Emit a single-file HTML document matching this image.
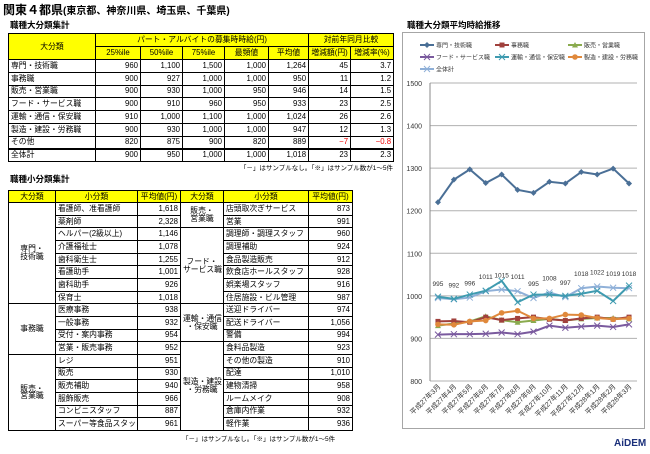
<!DOCTYPE html>
<html><head><meta charset="utf-8">
<style>
*{margin:0;padding:0;box-sizing:border-box}
body{width:650px;height:454px;background:#fff;font-family:"Liberation Sans","Noto Sans CJK JP",sans-serif;color:#000;position:relative;overflow:hidden}
.abs{position:absolute}
table{border-collapse:collapse;position:absolute;font-size:7.8px;table-layout:fixed}
td{border:1px solid #000;padding:0 2px;white-space:nowrap;overflow:hidden;line-height:1}
.h{background:#ffff00;text-align:center}
.n{text-align:right}
.c{text-align:center}
.red{color:#e00}
</style></head><body>
<div class="abs" style="left:3px;top:1px;font-size:12px;font-weight:bold">関東４都県<span style="font-size:10px">(東京都、神奈川県、埼玉県、千葉県)</span></div>
<div class="abs" style="left:10px;top:19px;font-size:8.5px;font-weight:bold">職種大分類集計</div>
<table style="left:8px;top:33px;width:385px">
<colgroup><col style="width:87px"><col style="width:45px"><col style="width:42px"><col style="width:42px"><col style="width:44px"><col style="width:40px"><col style="width:42px"><col style="width:43px"></colgroup>
<tr style="height:13px"><td class="h" rowspan="2">大分類</td><td class="h" colspan="5">パート・アルバイトの募集時時給(円)</td><td class="h" colspan="2">対前年同月比較</td></tr>
<tr style="height:13px"><td class="h">25%ile</td><td class="h">50%ile</td><td class="h">75%ile</td><td class="h">最頻値</td><td class="h">平均値</td><td class="h">増減額(円)</td><td class="h">増減率(%)</td></tr>
<tr style="height:12.75px"><td>専門・技術職</td><td class="n">960</td><td class="n">1,100</td><td class="n">1,500</td><td class="n">1,000</td><td class="n">1,264</td><td class="n">45</td><td class="n">3.7</td></tr>
<tr style="height:12.75px"><td>事務職</td><td class="n">900</td><td class="n">927</td><td class="n">1,000</td><td class="n">1,000</td><td class="n">950</td><td class="n">11</td><td class="n">1.2</td></tr>
<tr style="height:12.75px"><td>販売・営業職</td><td class="n">900</td><td class="n">930</td><td class="n">1,000</td><td class="n">950</td><td class="n">946</td><td class="n">14</td><td class="n">1.5</td></tr>
<tr style="height:12.75px"><td>フード・サービス職</td><td class="n">900</td><td class="n">910</td><td class="n">960</td><td class="n">950</td><td class="n">933</td><td class="n">23</td><td class="n">2.5</td></tr>
<tr style="height:12.75px"><td>運輸・通信・保安職</td><td class="n">910</td><td class="n">1,000</td><td class="n">1,100</td><td class="n">1,000</td><td class="n">1,024</td><td class="n">26</td><td class="n">2.6</td></tr>
<tr style="height:12.75px"><td>製造・建設・労務職</td><td class="n">900</td><td class="n">930</td><td class="n">1,000</td><td class="n">1,000</td><td class="n">947</td><td class="n">12</td><td class="n">1.3</td></tr>
<tr style="height:12.75px"><td>その他</td><td class="n">820</td><td class="n">875</td><td class="n">900</td><td class="n">820</td><td class="n">889</td><td class="n red">−7</td><td class="n red">−0.8</td></tr>
<tr style="height:12.75px;border-top:2px solid #000"><td>全体計</td><td class="n">900</td><td class="n">950</td><td class="n">1,000</td><td class="n">1,000</td><td class="n">1,018</td><td class="n">23</td><td class="n">2.3</td></tr>
</table>
<div class="abs" style="right:257px;top:162px;white-space:nowrap;font-size:6.5px">「－」はサンプルなし。「※」はサンプル数が1～5件</div>

<div class="abs" style="left:10px;top:173px;font-size:8.5px;font-weight:bold">職種小分類集計</div>
<table style="left:8px;top:190px;width:344px">
<colgroup><col style="width:47px"><col style="width:82px"><col style="width:43px"><col style="width:43px"><col style="width:85px"><col style="width:44px"></colgroup>
<tr style="height:12px"><td class="h">大分類</td><td class="h">小分類</td><td class="h">平均値(円)</td><td class="h">大分類</td><td class="h">小分類</td><td class="h">平均値(円)</td></tr>
<tr style="height:12.67px"><td class="c" rowspan="8" style="white-space:normal">専門・<br>技術職</td><td>看護師、准看護師</td><td class="n">1,618</td><td class="c" rowspan="2">販売・<br>営業職</td><td>店頭取次ぎサービス</td><td class="n">873</td></tr>
<tr style="height:12.67px"><td>薬剤師</td><td class="n">2,328</td><td>営業</td><td class="n">991</td></tr>
<tr style="height:12.67px"><td>ヘルパー(2級以上)</td><td class="n">1,146</td><td class="c" rowspan="6">フード・<br>サービス職</td><td>調理師・調理スタッフ</td><td class="n">960</td></tr>
<tr style="height:12.67px"><td>介護福祉士</td><td class="n">1,078</td><td>調理補助</td><td class="n">924</td></tr>
<tr style="height:12.67px"><td>歯科衛生士</td><td class="n">1,255</td><td>食品製造販売</td><td class="n">912</td></tr>
<tr style="height:12.67px"><td>看護助手</td><td class="n">1,001</td><td>飲食店ホールスタッフ</td><td class="n">928</td></tr>
<tr style="height:12.67px"><td>歯科助手</td><td class="n">926</td><td>娯楽場スタッフ</td><td class="n">916</td></tr>
<tr style="height:12.67px"><td>保育士</td><td class="n">1,018</td><td>住居施設・ビル管理</td><td class="n">987</td></tr>
<tr style="height:12.67px"><td class="c" rowspan="4">事務職</td><td>医療事務</td><td class="n">938</td><td class="c" rowspan="3">運輸・通信<br>・保安職</td><td>送迎ドライバー</td><td class="n">974</td></tr>
<tr style="height:12.67px"><td>一般事務</td><td class="n">932</td><td>配送ドライバー</td><td class="n">1,056</td></tr>
<tr style="height:12.67px"><td>受付・案内事務</td><td class="n">954</td><td>警備</td><td class="n">994</td></tr>
<tr style="height:12.67px"><td>営業・販売事務</td><td class="n">952</td><td class="c" rowspan="7">製造・建設<br>・労務職</td><td>食料品製造</td><td class="n">923</td></tr>
<tr style="height:12.67px"><td class="c" rowspan="6">販売・<br>営業職</td><td>レジ</td><td class="n">951</td><td>その他の製造</td><td class="n">910</td></tr>
<tr style="height:12.67px"><td>販売</td><td class="n">930</td><td>配達</td><td class="n">1,010</td></tr>
<tr style="height:12.67px"><td>販売補助</td><td class="n">940</td><td>建物清掃</td><td class="n">958</td></tr>
<tr style="height:12.67px"><td>服飾販売</td><td class="n">966</td><td>ルームメイク</td><td class="n">908</td></tr>
<tr style="height:12.67px"><td>コンビニスタッフ</td><td class="n">887</td><td>倉庫内作業</td><td class="n">932</td></tr>
<tr style="height:12.67px"><td>スーパー等食品スタッフ</td><td class="n">961</td><td>軽作業</td><td class="n">936</td></tr>
</table>
<div class="abs" style="left:182px;top:433px;white-space:nowrap;font-size:6.5px">「－」はサンプルなし。「※」はサンプル数が1～5件</div>

<div class="abs" style="left:407px;top:19px;font-size:8.5px;font-weight:bold">職種大分類平均時給推移</div>
<svg class="abs" id="chart" style="left:0;top:0" width="650" height="454"></svg>
<div class="abs" style="left:614px;top:438px;font-size:10px;font-weight:bold;color:#1a2f7a">A<span style="color:#1a2f7a">i</span>DEM</div>

<script>
const categories=['平成27年3月','平成27年4月','平成27年5月','平成27年6月','平成27年7月','平成27年8月','平成27年9月','平成27年10月','平成27年11月','平成27年12月','平成28年1月','平成28年2月','平成28年3月'];
const yTicks=[800,900,1000,1100,1200,1300,1400,1500];
const seriesNames=['専門・技術職','事務職','販売・営業職','フード・サービス職','運輸・通信・保安職','製造・建設・労務職','全体計'];
const senmon=[1220,1273,1297,1265,1285,1249,1242,1268,1264,1291,1285,1299,1264];
const jimu=[940,941,938,950,943,947,950,945,942,947,950,945,950];
const hanbai=[930,935,940,952,943,938,942,946,942,946,948,948,946];
const food=[909,910,910,911,914,910,916,930,925,928,930,927,933];
const unyu=[998,993,1003,1012,1035,985,1003,1003,1000,1005,1012,988,1024];
const seizo=[933,932,940,942,960,965,947,947,956,955,948,945,947];
const zentai=[995,992,996,1011,1015,1011,995,1008,997,1018,1022,1019,1018];

const NS='http://www.w3.org/2000/svg';
const svg=document.getElementById('chart');
const X0=430,X1=637,Y0=381,Y1=83,ymin=800,ymax=1500;
const band=(X1-X0)/categories.length;
const xs=i=>X0+band*(i+0.5);
const ys=v=>Y0-(v-ymin)/(ymax-ymin)*(Y0-Y1);
function mk(t,a,p){const e=document.createElementNS(NS,t);for(const k in a)e.setAttribute(k,a[k]);(p||svg).appendChild(e);return e;}

const box=mk('rect',{x:402.5,y:32.5,width:242,height:396,fill:'none',stroke:'#a6a6a6'});


yTicks.forEach(v=>{
  const g=mk('line',{x1:X0,x2:X1,y1:ys(v),y2:ys(v),stroke:'#b0b0b0','stroke-width':1});
  
  
  const t=mk('text',{x:X0-8,y:ys(v)+3,'text-anchor':'end','font-size':7,fill:'#333'});
  t.textContent=v;
  
  
});
const ax=mk('line',{x1:X0,x2:X0,y1:Y1,y2:Y0,stroke:'#888'});


categories.forEach((c,i)=>{
  const t=mk('text',{transform:`translate(${xs(i)+3},${Y0+6}) rotate(-45)`,'text-anchor':'end','font-size':7,fill:'#333'});
  t.textContent=c;
  
  
});
const colors=['#4a6f96','#a0403c','#8aab4e','#7a5a9e','#3f9bb0','#e0893c','#8fb0d8'];
const marks=['diamond','square','triangle','x','x','circle','x'];
const datas=[senmon,jimu,hanbai,food,unyu,seizo,zentai];
function marker(type,x,y,col,g){
  if(type==='diamond')mk('polygon',{points:`${x},${y-3} ${x+3},${y} ${x},${y+3} ${x-3},${y}`,fill:col},g);
  else if(type==='square')mk('rect',{x:x-2.5,y:y-2.5,width:5,height:5,fill:col},g);
  else if(type==='triangle')mk('polygon',{points:`${x},${y-3} ${x+3},${y+2.5} ${x-3},${y+2.5}`,fill:col},g);
  else if(type==='circle')mk('circle',{cx:x,cy:y,r:2.8,fill:col},g);
  else mk('path',{d:`M${x-3},${y-3}L${x+3},${y+3}M${x-3},${y+3}L${x+3},${y-3}`,stroke:col,'stroke-width':1},g);
}
const order=[6,4,3,2,1,5,0];
order.forEach(s=>{
  const g=mk('g',{});
  
  
  const d=datas[s].map((v,i)=>(i?'L':'M')+xs(i)+','+ys(v)).join('');
  mk('path',{d:d,fill:'none',stroke:colors[s],'stroke-width':2},g);
  datas[s].forEach((v,i)=>marker(marks[s],xs(i),ys(v),colors[s],g));
});
zentai.forEach((v,i)=>{
  const t=mk('text',{x:xs(i),y:ys(v)-12,'text-anchor':'middle','font-size':6.5,fill:'#333'});
  t.textContent=v;
  
  
});
const lp=[[420,45],[495,45],[568,45],[420,57],[495,57],[568,57],[420,69]];
seriesNames.forEach((n,s)=>{
  const g=mk('g',{});
  
  
  const [x,y]=lp[s];
  mk('line',{x1:x,x2:x+14,y1:y,y2:y,stroke:colors[s],'stroke-width':2},g);
  marker(marks[s],x+7,y,colors[s],g);
  const t=mk('text',{x:x+16,y:y+2.5,'font-size':6,fill:'#333'},g);
  t.textContent=n;
});
</script>
</body></html>
